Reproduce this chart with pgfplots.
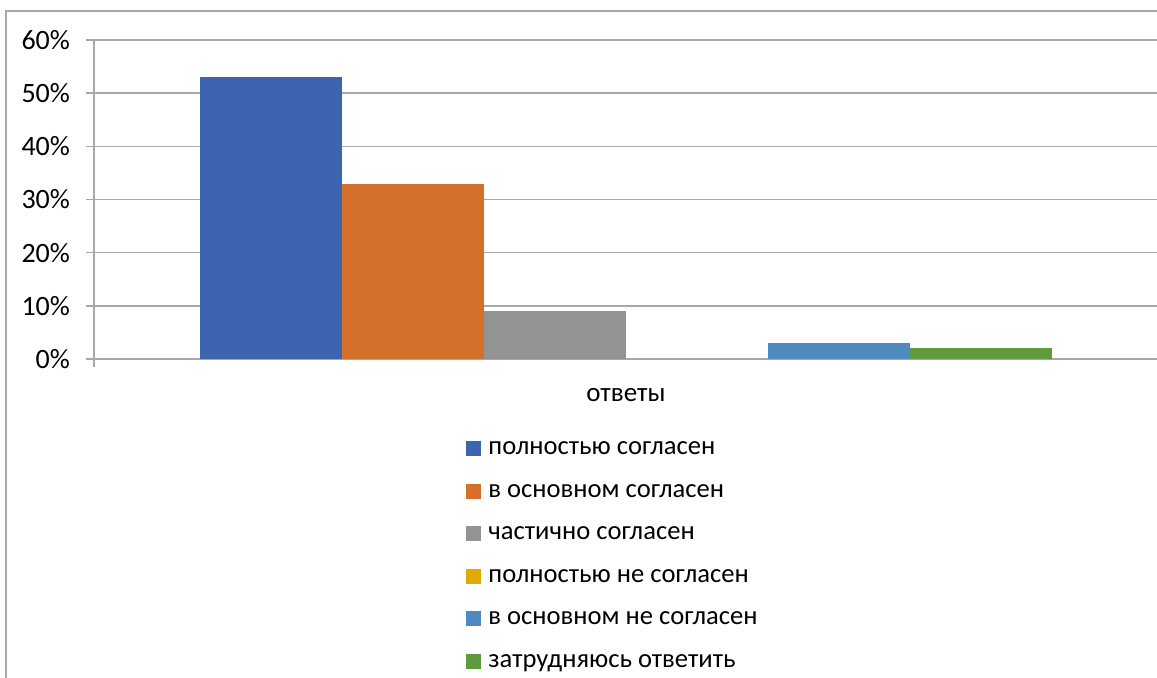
\documentclass[border=0pt]{standalone}
\usepackage{pgfplots}
\pgfplotsset{compat=1.18}
\usepackage{fontspec}
\setmainfont{Carlito}
\definecolor{gridgray}{RGB}{168,168,168}
\definecolor{c1}{RGB}{61,100,174}
\definecolor{c2}{RGB}{212,112,43}
\definecolor{c3}{RGB}{147,147,147}
\definecolor{c4}{RGB}{226,170,0}
\definecolor{c5}{RGB}{78,138,192}
\definecolor{c6}{RGB}{95,154,60}
\begin{document}
\begin{tikzpicture}
\useasboundingbox (0,0) rectangle (578.5pt,-338.5pt);
\draw[gridgray, line width=0.75pt] (3pt,-345pt) -- (3pt,-5.5pt) -- (590pt,-5.5pt);
\begin{axis}[
  at={(47pt,-179.5pt)}, anchor=south west,
  scale only axis, width=532pt, height=159.5pt,
  xmin=94, xmax=1158, ymin=0, ymax=60,
  ybar=0pt, bar width=142,
  separate axis lines,
  axis x line*=bottom, axis y line*=left,
  axis line style={draw=gridgray, line width=0.8pt, -},
  ytick={0,10,...,60}, ytick pos=left,
  ymajorgrids, grid style={draw=gridgray, line width=0.8pt},
  major tick style={draw=gridgray, line width=0.8pt},
  tick align=outside, major tick length=4pt,
  xtick={94}, xticklabels={}, xtick pos=bottom,
  yticklabel={\pgfmathprintnumber{\tick}\%},
  /pgf/number format/assume math mode=true,
  yticklabel style={font=\fontsize{14}{16}\selectfont, anchor=east, xshift=-4.5pt},
  xlabel={ответы},
  xlabel style={at={(axis description cs:0.5,-0.1129)}, anchor=center, font=\fontsize{13.5}{15}\selectfont},
  legend style={at={(axis description cs:0.344,-0.229)}, anchor=north west, draw=none, fill=none,
     font=\fontsize{13.3}{15}\selectfont, row sep=9.3pt, column sep=3.5pt,
     nodes={inner sep=0pt, text height=9pt, text depth=3pt}},
  legend cell align=left,
  legend image code/.code={\path[#1, draw=none] (0pt,-3.75pt) rectangle (7.5pt,3.75pt);},
  clip=false,
]
\addplot[fill=c1, draw=none] coordinates {(626,53)};
\addplot[fill=c2, draw=none] coordinates {(626,33)};
\addplot[fill=c3, draw=none] coordinates {(626,9)};
\addplot[fill=c4, draw=none] coordinates {(626,0)};
\addplot[fill=c5, draw=none] coordinates {(626,3)};
\addplot[fill=c6, draw=none] coordinates {(626,2)};
\legend{полностью согласен, в основном согласен, частично согласен, полностью не согласен, в основном не согласен, затрудняюсь ответить}
\end{axis}
\end{tikzpicture}
\end{document}
